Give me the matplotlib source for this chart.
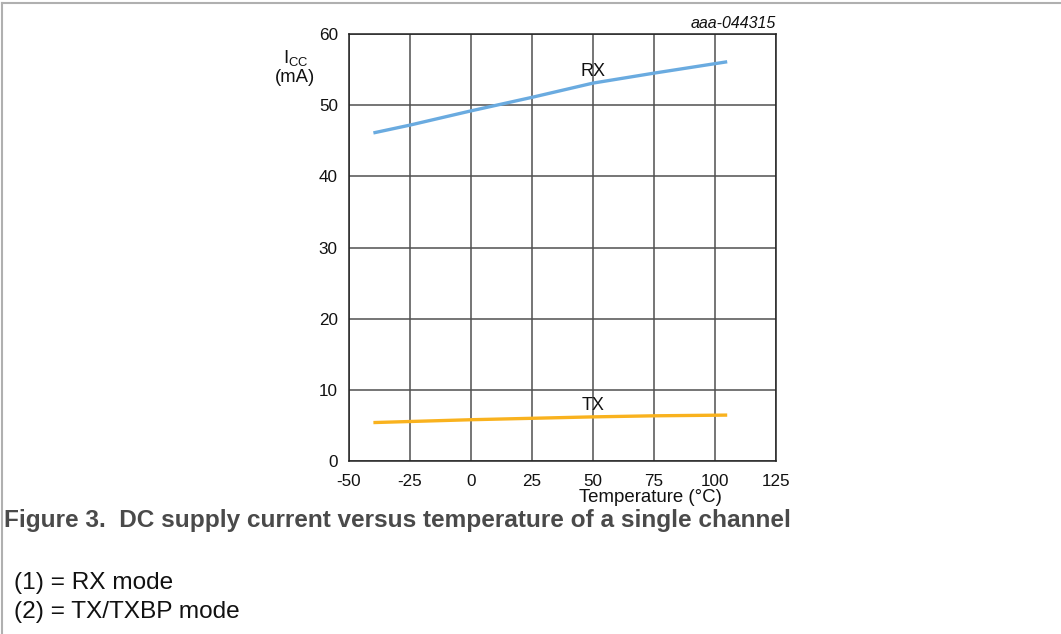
import matplotlib
matplotlib.use("Agg")
import matplotlib.pyplot as plt
from matplotlib.lines import Line2D

plt.rcParams['font.family'] = ['Liberation Sans', 'DejaVu Sans']

# Data
temp = [-40, -25, 0, 25, 50, 75, 105]
rx_ma = [46.1, 47.2, 49.2, 51.1, 53.1, 54.5, 56.1]
tx_ma = [5.4, 5.55, 5.8, 6.0, 6.2, 6.35, 6.45]
x_ticks = [-50, -25, 0, 25, 50, 75, 100, 125]
y_ticks = [0, 10, 20, 30, 40, 50, 60]

W, H = 1061, 634
fig = plt.figure(figsize=(W / 100, H / 100), dpi=100)

def fx(px):
    return px / W

def fy(py):
    return 1 - py / H

L, R, T, B = 349, 776, 34, 461
ax = fig.add_axes([fx(L), fy(B), fx(R - L), (B - T) / H])
ax.set_xlim(-50, 125)
ax.set_ylim(0, 60)
ax.set_xticks(x_ticks)
ax.set_xticklabels([str(v) for v in x_ticks])
ax.set_yticks(y_ticks)
ax.set_yticklabels([str(v) for v in y_ticks])
ax.grid(True, color='#505050', linewidth=1.1)
for s in ax.spines.values():
    s.set_color('#222222')
    s.set_linewidth(1.1)
ax.tick_params(axis='x', length=0, labelsize=12.3, pad=9.5, colors='#111111')
ax.tick_params(axis='y', length=0, labelsize=12.3, pad=8, colors='#111111')
ax.set_axisbelow(True)

ax.plot(temp, rx_ma, color='#6aabe0', linewidth=2.4, solid_capstyle='butt')
ax.plot(temp, tx_ma, color='#f9b21e', linewidth=2.4, solid_capstyle='butt')

ax.text(50, (461 - 71.5) / 7.1167, 'RX', fontsize=13, ha='center', va='center', color='#111111')
ax.text(50, (461 - 405) / 7.1167, 'TX', fontsize=13, ha='center', va='center', color='#111111')

fig.text(fx(650), fy(497), 'Temperature (°C)', fontsize=13.4, ha='center', va='center', color='#111111')
fig.text(fx(296), fy(59), r'I$_{\mathregular{CC}}$', fontsize=13.4, ha='center', va='center', color='#111111')
fig.text(fx(295), fy(78), '(mA)', fontsize=13.3, ha='center', va='center', color='#111111')
fig.text(fx(776), fy(23), 'aaa-044315', fontsize=11.5, ha='right', va='center', style='italic', color='#111111')

fig.text(fx(4), fy(521), 'Figure 3.  DC supply current versus temperature of a single channel',
         fontsize=17.6, fontweight='bold', ha='left', va='center', color='#4a4a4a')
fig.text(fx(14), fy(583), '(1) = RX mode', fontsize=17.6, ha='left', va='center', color='#111111')
fig.text(fx(14), fy(612), '(2) = TX/TXBP mode', fontsize=17.6, ha='left', va='center', color='#111111')

# outer frame lines (top and left)
fig.add_artist(Line2D([fx(2), 1], [fy(3), fy(3)], color='#b0b0b0', linewidth=1.5, transform=fig.transFigure))
fig.add_artist(Line2D([fx(2), fx(2)], [fy(3), 0], color='#b0b0b0', linewidth=1.5, transform=fig.transFigure))

fig.savefig('out.png', dpi=100)
